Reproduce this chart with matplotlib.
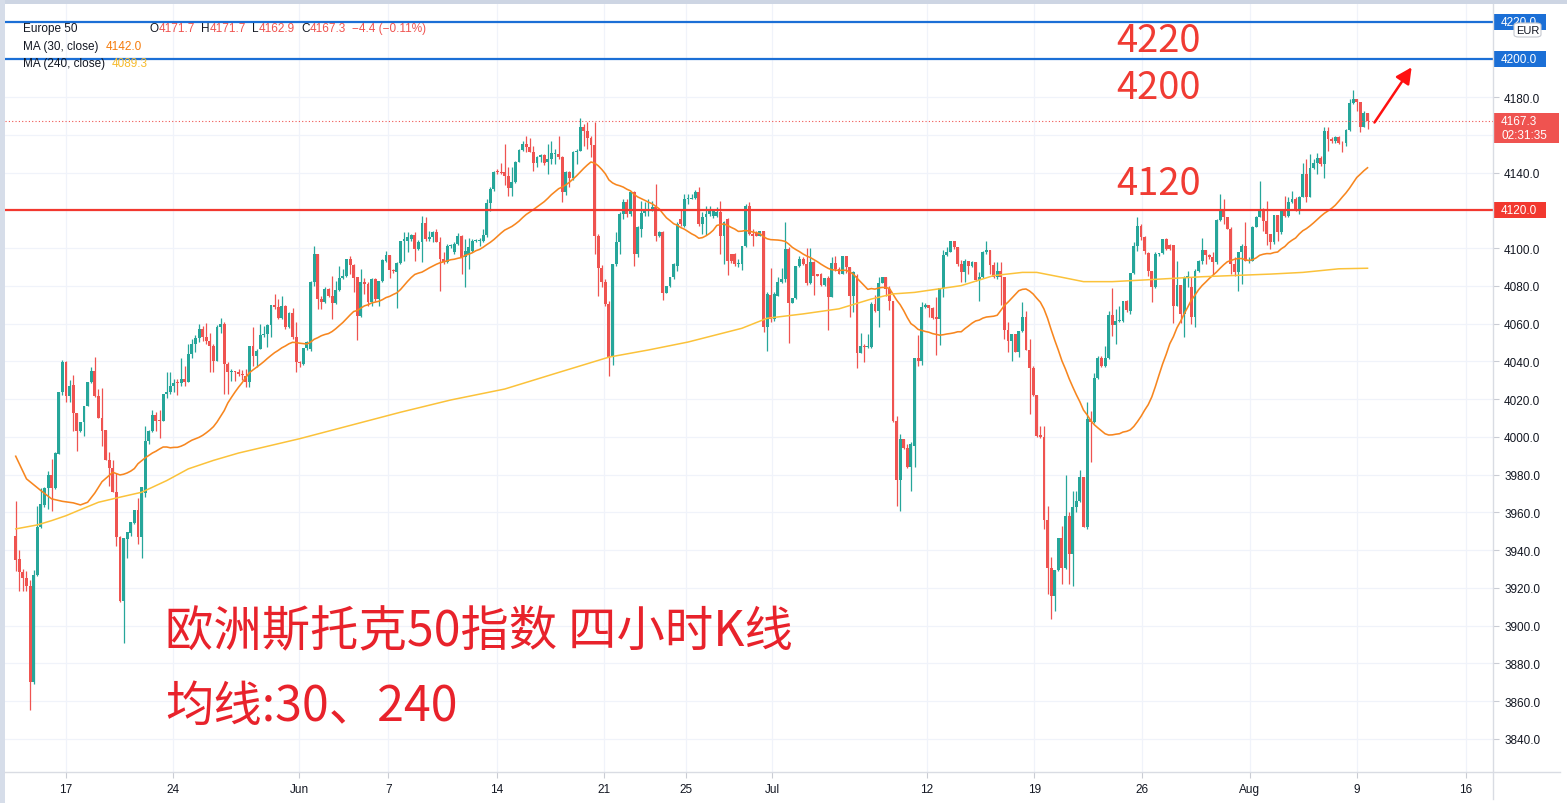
import numpy as np
import pandas as pd
import matplotlib.pyplot as plt
import matplotlib.transforms as mtransforms
from matplotlib.patches import Rectangle, FancyBboxPatch
from matplotlib.lines import Line2D

plt.rcParams['font.family'] = ['Liberation Sans', 'DejaVu Sans']

# 4-hour candles, Europe 50 (one value per bar)
opens = [
    3947.3, 3935.0, 3928.6, 3925.4, 3921.0, 3870.0, 3926.8, 3952.0, 3964.1, 3972.9,
    3980.0, 3972.7, 3990.9, 4023.6, 4039.8, 4021.8, 4027.4, 4012.6, 4003.1, 4007.7,
    4016.5, 4029.2, 4034.7, 4021.8, 4010.2, 4003.6, 3987.9, 3983.5, 3970.6, 3946.8,
    3913.2, 3945.9, 3948.9, 3954.2, 3961.1, 3946.8, 3970.2, 3998.0, 4002.9, 4011.6,
    4008.6, 4008.6, 4022.7, 4023.9, 4027.1, 4028.5, 4028.5, 4030.6, 4029.2, 4043.9,
    4049.2, 4052.5, 4057.0, 4053.0, 4051.0, 4048.0, 4040.4, 4058.0, 4060.0, 4038.6,
    4034.2, 4034.8, 4034.2, 4033.5, 4032.4, 4028.9, 4048.3, 4043.0, 4046.5, 4054.0,
    4054.5, 4059.2, 4069.8, 4068.6, 4063.0, 4069.5, 4058.0, 4065.6, 4052.7, 4039.5,
    4038.6, 4046.9, 4046.5, 4081.9, 4096.9, 4073.0, 4071.6, 4078.3, 4074.8, 4070.7,
    4077.9, 4084.2, 4085.0, 4094.2, 4091.0, 4084.5, 4064.2, 4081.9, 4081.0, 4071.3,
    4083.6, 4073.0, 4082.7, 4093.0, 4096.3, 4088.4, 4087.2, 4091.9, 4103.6, 4103.6,
    4104.8, 4106.9, 4099.5, 4103.0, 4113.3, 4104.8, 4105.7, 4108.3, 4103.4, 4094.2,
    4092.5, 4101.3, 4097.7, 4102.2, 4106.6, 4095.1, 4097.0, 4098.6, 4103.6, 4103.6,
    4103.9, 4106.9, 4123.7, 4131.3, 4140.5, 4140.5, 4140.5, 4138.4, 4131.8, 4134.8,
    4145.8, 4152.0, 4155.1, 4153.3, 4151.0, 4144.9, 4148.1, 4149.3, 4145.4, 4147.2,
    4149.8, 4149.8, 4148.1, 4129.5, 4140.1, 4136.9, 4150.7, 4151.5, 4164.0, 4162.2,
    4158.1, 4154.6, 4106.6, 4089.2, 4081.8, 4070.4, 4042.1, 4091.5, 4103.0, 4118.0,
    4124.2, 4118.0, 4129.5, 4096.8, 4110.1, 4118.5, 4119.8, 4119.8, 4121.6, 4106.6,
    4108.3, 4076.2, 4079.7, 4084.5, 4090.7, 4115.4, 4111.9, 4125.8, 4126.1, 4126.5,
    4129.5, 4112.7, 4116.3, 4118.1, 4117.2, 4117.2, 4118.9, 4106.2, 4115.4, 4096.8,
    4096.8, 4091.5, 4091.5, 4100.9, 4122.1, 4107.4, 4108.0, 4106.5, 4108.8, 4058.0,
    4075.1, 4062.4, 4074.8, 4081.8, 4083.6, 4099.5, 4070.9, 4073.5, 4090.3, 4094.2,
    4091.5, 4081.3, 4092.4, 4086.2, 4086.2, 4080.6, 4084.1, 4074.2, 4092.1, 4088.9,
    4086.4, 4095.6, 4089.8, 4074.8, 4085.4, 4044.2, 4047.9, 4047.4, 4047.4, 4070.4,
    4066.8, 4081.5, 4084.5, 4078.3, 4072.1, 4008.5, 3977.2, 3998.8, 3993.9, 3983.8,
    3995.3, 4041.6, 4040.3, 4068.6, 4069.8, 4068.1, 4063.6, 4062.4, 4078.7, 4096.3,
    4098.1, 4103.6, 4100.4, 4091.5, 4087.1, 4093.3, 4090.3, 4092.8, 4083.2, 4084.5,
    4097.7, 4099.1, 4091.2, 4084.5, 4088.0, 4084.5, 4056.8, 4050.9, 4054.5, 4045.1,
    4055.9, 4063.3, 4046.2, 4036.3, 4022.3, 4001.0, 3999.8, 3955.9, 3930.5, 3915.8,
    3929.4, 3946.2, 3930.5, 3957.9, 3937.9, 3962.6, 3966.2, 3978.5, 3952.4, 4009.4,
    4007.6, 4031.0, 4041.6, 4037.3, 4041.6, 4064.5, 4059.2, 4061.5, 4061.5, 4071.8,
    4066.8, 4086.8, 4101.0, 4111.9, 4106.0, 4097.2, 4088.0, 4079.2, 4096.8, 4097.2,
    4104.8, 4101.6, 4101.6, 4069.5, 4080.4, 4065.0, 4084.8, 4079.2, 4063.3, 4088.0,
    4093.3, 4099.1, 4096.5, 4095.1, 4092.4, 4115.0, 4120.7, 4116.3, 4110.1, 4091.5,
    4087.1, 4097.7, 4101.3, 4093.3, 4093.3, 4111.3, 4116.3, 4120.7, 4114.2, 4107.4,
    4103.0, 4117.5, 4108.3, 4119.8, 4117.2, 4124.2, 4126.0, 4120.7, 4127.2, 4139.4,
    4126.9, 4142.6, 4144.8, 4147.6, 4144.4, 4162.2, 4157.7, 4156.5, 4159.0, 4155.9,
    4155.4, 4162.5, 4176.8, 4178.9, 4177.2, 4164.2, 4171.7,
]
highs = [
    3965.8, 3940.0, 3930.0, 3929.0, 3924.0, 3929.4, 3963.5, 3972.9, 3973.2, 3982.1,
    3988.3, 3991.8, 4023.9, 4040.5, 4040.0, 4030.0, 4032.8, 4012.8, 4007.7, 4016.5,
    4029.2, 4036.8, 4042.1, 4025.3, 4025.7, 4003.6, 3991.8, 3987.5, 3981.0, 3947.6,
    3946.2, 3949.4, 3954.7, 3961.1, 3967.4, 3973.6, 4005.9, 4003.4, 4014.2, 4013.0,
    4014.2, 4022.7, 4034.2, 4034.2, 4030.6, 4030.6, 4041.8, 4037.7, 4049.2, 4052.0,
    4054.0, 4059.5, 4058.5, 4060.5, 4055.0, 4049.0, 4059.0, 4063.0, 4061.0, 4039.5,
    4035.9, 4035.1, 4036.0, 4035.5, 4035.9, 4048.3, 4058.0, 4046.5, 4059.8, 4058.9,
    4059.8, 4069.8, 4075.7, 4073.0, 4074.8, 4070.0, 4066.0, 4068.3, 4061.0, 4040.0,
    4046.9, 4050.5, 4082.5, 4101.3, 4096.9, 4074.8, 4079.2, 4079.0, 4085.4, 4082.7,
    4090.7, 4088.9, 4094.2, 4096.0, 4091.6, 4084.5, 4088.9, 4084.2, 4081.9, 4084.0,
    4084.2, 4082.7, 4094.2, 4098.6, 4096.3, 4089.0, 4092.5, 4103.6, 4108.3, 4108.3,
    4107.5, 4108.3, 4104.0, 4116.8, 4116.3, 4109.2, 4109.2, 4110.1, 4105.7, 4097.7,
    4102.2, 4102.0, 4103.0, 4108.0, 4107.0, 4104.8, 4105.2, 4104.8, 4105.0, 4105.2,
    4110.1, 4126.0, 4132.2, 4141.0, 4141.9, 4145.1, 4155.1, 4142.7, 4142.7, 4146.3,
    4152.4, 4156.9, 4159.5, 4158.1, 4154.2, 4148.9, 4149.8, 4150.0, 4155.1, 4156.9,
    4152.4, 4159.5, 4148.9, 4141.0, 4141.0, 4151.5, 4152.4, 4168.7, 4165.7, 4166.6,
    4159.5, 4166.6, 4107.5, 4091.0, 4083.6, 4072.1, 4091.5, 4108.3, 4118.9, 4126.0,
    4126.0, 4129.5, 4130.4, 4111.9, 4125.1, 4124.2, 4126.0, 4125.1, 4133.9, 4109.0,
    4109.2, 4080.1, 4084.5, 4092.1, 4113.6, 4120.7, 4128.6, 4128.6, 4128.6, 4130.8,
    4132.2, 4118.9, 4122.5, 4122.5, 4120.5, 4121.6, 4124.9, 4114.5, 4115.7, 4097.0,
    4097.4, 4094.2, 4101.3, 4123.4, 4124.3, 4110.1, 4109.2, 4109.2, 4109.2, 4076.5,
    4089.2, 4076.5, 4084.5, 4089.2, 4113.6, 4100.4, 4073.5, 4090.7, 4095.9, 4095.0,
    4100.0, 4099.8, 4093.3, 4086.5, 4086.8, 4084.1, 4085.4, 4095.1, 4095.9, 4089.8,
    4095.6, 4095.6, 4089.8, 4088.0, 4086.2, 4055.0, 4049.2, 4054.5, 4071.2, 4075.1,
    4084.5, 4084.5, 4084.5, 4080.1, 4072.1, 4011.2, 4001.5, 3998.8, 3996.2, 3997.1,
    4041.7, 4053.9, 4071.6, 4070.9, 4069.8, 4068.6, 4073.9, 4078.7, 4099.1, 4100.4,
    4103.9, 4103.6, 4100.4, 4093.8, 4094.2, 4093.3, 4093.0, 4092.8, 4087.1, 4098.6,
    4103.6, 4099.1, 4092.4, 4092.4, 4092.4, 4084.5, 4061.0, 4054.5, 4054.5, 4055.9,
    4071.2, 4066.8, 4051.8, 4037.3, 4022.3, 4005.9, 4005.9, 3963.5, 3936.2, 3929.4,
    3946.2, 3952.9, 3979.8, 3960.0, 3971.5, 3971.5, 3982.6, 3978.5, 4018.3, 4013.8,
    4033.8, 4043.0, 4043.0, 4048.3, 4066.8, 4078.7, 4067.7, 4069.5, 4071.8, 4072.5,
    4086.8, 4103.0, 4116.3, 4113.0, 4106.6, 4097.7, 4088.0, 4097.7, 4097.5, 4104.8,
    4105.1, 4102.0, 4101.6, 4093.3, 4080.4, 4085.4, 4088.0, 4084.5, 4088.9, 4093.5,
    4105.1, 4099.1, 4097.0, 4097.7, 4115.4, 4128.6, 4126.0, 4116.3, 4111.0, 4095.1,
    4097.7, 4102.1, 4113.6, 4095.0, 4111.9, 4117.2, 4135.6, 4121.2, 4125.1, 4107.4,
    4117.5, 4117.5, 4120.2, 4127.8, 4126.9, 4130.4, 4127.0, 4127.8, 4145.3, 4147.0,
    4149.7, 4147.0, 4150.6, 4148.8, 4163.9, 4163.9, 4159.0, 4159.6, 4159.6, 4156.8,
    4163.0, 4178.9, 4183.7, 4178.9, 4177.2, 4172.4, 4171.7,
]
lows = [
    3928.7, 3918.5, 3918.5, 3918.5, 3855.0, 3869.0, 3926.0, 3951.5, 3962.6, 3961.8,
    3960.9, 3972.4, 3990.9, 4022.0, 4018.3, 4018.3, 4003.1, 3992.7, 4002.5, 4000.6,
    4016.5, 4028.7, 4020.9, 4010.2, 3995.3, 3987.9, 3974.1, 3970.6, 3942.3, 3912.3,
    3890.8, 3936.0, 3947.6, 3953.8, 3943.2, 3936.0, 3967.9, 3996.2, 4002.7, 4003.1,
    3999.2, 4008.4, 4020.3, 4022.7, 4023.9, 4022.0, 4026.7, 4026.7, 4028.9, 4041.8,
    4045.0, 4050.0, 4051.0, 4049.0, 4034.2, 4034.2, 4040.0, 4055.0, 4022.7, 4022.7,
    4029.8, 4029.8, 4032.0, 4030.0, 4026.2, 4026.2, 4037.7, 4036.8, 4046.5, 4052.7,
    4047.4, 4052.7, 4067.7, 4062.4, 4062.4, 4057.0, 4057.5, 4052.0, 4034.2, 4037.0,
    4038.2, 4046.0, 4045.7, 4079.7, 4067.7, 4067.7, 4071.0, 4074.0, 4062.4, 4070.4,
    4077.4, 4083.6, 4084.5, 4086.3, 4076.6, 4051.5, 4063.3, 4075.7, 4069.5, 4069.5,
    4072.1, 4069.5, 4081.9, 4092.5, 4084.2, 4087.0, 4068.3, 4091.6, 4093.3, 4097.7,
    4103.9, 4093.3, 4099.0, 4092.5, 4103.9, 4103.9, 4103.0, 4103.0, 4077.1, 4091.6,
    4092.0, 4100.0, 4096.9, 4101.8, 4086.3, 4079.2, 4089.0, 4098.0, 4103.0, 4101.3,
    4103.0, 4105.7, 4119.8, 4130.4, 4139.2, 4139.2, 4133.4, 4127.4, 4127.8, 4134.5,
    4145.4, 4151.5, 4151.0, 4150.7, 4140.9, 4142.7, 4145.4, 4144.0, 4139.2, 4144.5,
    4144.5, 4147.2, 4124.2, 4128.1, 4132.2, 4136.2, 4144.5, 4151.5, 4154.2, 4152.4,
    4148.1, 4096.8, 4074.8, 4079.2, 4069.5, 4032.4, 4038.0, 4090.7, 4096.8, 4115.4,
    4116.6, 4117.1, 4090.7, 4095.1, 4106.0, 4117.1, 4117.1, 4119.5, 4103.9, 4106.0,
    4072.7, 4076.0, 4079.2, 4083.6, 4088.0, 4111.9, 4111.0, 4123.4, 4125.8, 4126.1,
    4111.9, 4107.4, 4106.9, 4117.2, 4116.0, 4116.3, 4097.1, 4091.7, 4085.7, 4092.0,
    4090.3, 4089.8, 4088.5, 4100.4, 4106.9, 4101.3, 4106.2, 4106.2, 4055.7, 4045.6,
    4061.0, 4061.5, 4074.4, 4081.5, 4081.8, 4049.5, 4070.9, 4073.0, 4089.8, 4091.0,
    4080.4, 4080.9, 4075.1, 4085.0, 4080.1, 4080.1, 4056.8, 4073.9, 4088.0, 4086.2,
    4086.2, 4086.8, 4063.6, 4066.0, 4036.5, 4044.2, 4039.5, 4046.9, 4046.9, 4065.9,
    4058.3, 4081.5, 4074.8, 4067.1, 4007.7, 3963.5, 3960.5, 3993.5, 3983.2, 3971.4,
    3983.8, 4037.7, 4038.0, 4068.1, 4063.3, 4062.4, 4043.3, 4048.6, 4073.9, 4096.0,
    4097.7, 4099.5, 4090.3, 4081.8, 4081.8, 4086.2, 4090.0, 4082.7, 4072.1, 4084.0,
    4096.8, 4086.2, 4083.9, 4083.6, 4069.8, 4051.8, 4044.8, 4040.3, 4044.8, 4042.1,
    4055.3, 4046.2, 4012.1, 4021.8, 3999.8, 3999.2, 3951.2, 3916.7, 3903.5, 3907.9,
    3929.1, 3922.0, 3930.0, 3922.0, 3921.2, 3960.0, 3965.3, 3952.0, 3951.2, 3986.8,
    4007.3, 4030.6, 4036.8, 4036.8, 4041.2, 4053.2, 4049.2, 4060.6, 4061.0, 4066.0,
    4065.1, 4086.2, 4098.6, 4104.0, 4096.8, 4085.4, 4071.2, 4078.8, 4096.0, 4096.8,
    4099.1, 4099.0, 4060.1, 4069.5, 4060.1, 4052.7, 4079.2, 4060.0, 4058.0, 4087.5,
    4091.5, 4091.5, 4094.0, 4086.2, 4091.5, 4114.5, 4112.7, 4110.1, 4086.2, 4085.4,
    4077.4, 4080.9, 4093.3, 4092.0, 4093.0, 4111.0, 4116.3, 4109.2, 4101.6, 4099.5,
    4102.1, 4103.9, 4107.4, 4116.3, 4116.3, 4123.7, 4119.8, 4118.0, 4126.9, 4124.2,
    4126.9, 4141.7, 4139.1, 4143.5, 4137.3, 4151.5, 4155.4, 4155.9, 4155.0, 4150.9,
    4154.1, 4162.2, 4176.3, 4172.8, 4161.7, 4163.9, 4162.9,
]
closes = [
    3934.9, 3928.6, 3925.4, 3921.0, 3870.0, 3926.8, 3952.0, 3964.4, 3972.9, 3980.0,
    3972.7, 3991.4, 4023.6, 4039.8, 4021.8, 4027.1, 4012.6, 4003.1, 4007.7, 4016.5,
    4029.2, 4034.7, 4021.8, 4010.2, 4003.1, 3987.9, 3983.5, 3970.6, 3946.8, 3913.2,
    3946.2, 3949.4, 3954.7, 3961.1, 3946.8, 3973.6, 3998.0, 4003.1, 4011.6, 4008.6,
    4008.4, 4022.7, 4023.9, 4027.1, 4028.5, 4028.3, 4030.6, 4029.2, 4043.9, 4049.2,
    4052.5, 4057.0, 4053.0, 4051.0, 4048.0, 4040.4, 4058.0, 4060.0, 4038.6, 4034.2,
    4034.8, 4034.2, 4033.5, 4032.8, 4028.9, 4048.3, 4043.0, 4045.7, 4054.0, 4054.5,
    4059.2, 4069.8, 4068.6, 4063.0, 4069.5, 4058.0, 4065.6, 4052.7, 4039.5, 4039.1,
    4046.9, 4050.1, 4081.9, 4096.9, 4073.0, 4071.6, 4078.3, 4074.8, 4070.7, 4077.9,
    4084.2, 4085.0, 4094.2, 4091.0, 4084.2, 4064.2, 4081.9, 4081.0, 4071.3, 4083.6,
    4073.0, 4082.7, 4093.7, 4096.3, 4088.4, 4088.0, 4091.9, 4103.6, 4104.8, 4105.7,
    4106.9, 4099.5, 4103.0, 4113.3, 4104.8, 4105.7, 4108.3, 4103.4, 4094.2, 4092.5,
    4101.3, 4101.8, 4102.2, 4106.6, 4095.5, 4098.6, 4100.4, 4103.9, 4103.9, 4104.3,
    4106.9, 4123.7, 4131.3, 4140.5, 4140.1, 4139.8, 4138.4, 4131.8, 4134.8, 4145.8,
    4152.0, 4155.1, 4153.3, 4151.0, 4144.9, 4148.1, 4149.3, 4145.1, 4147.2, 4150.3,
    4149.9, 4148.1, 4129.5, 4140.1, 4136.9, 4150.7, 4151.5, 4164.0, 4162.2, 4158.1,
    4154.6, 4106.6, 4089.2, 4081.8, 4070.4, 4042.1, 4091.5, 4103.0, 4118.0, 4124.2,
    4118.0, 4129.5, 4096.8, 4111.0, 4118.5, 4119.8, 4120.2, 4121.6, 4106.6, 4108.3,
    4076.2, 4079.7, 4084.5, 4091.5, 4112.7, 4112.7, 4126.0, 4126.5, 4126.7, 4129.5,
    4112.7, 4116.3, 4118.1, 4119.8, 4119.8, 4118.9, 4106.2, 4113.6, 4093.3, 4093.3,
    4091.5, 4092.1, 4100.9, 4122.1, 4107.4, 4106.5, 4106.5, 4108.8, 4058.0, 4075.7,
    4062.4, 4075.7, 4081.8, 4083.6, 4099.5, 4070.9, 4073.5, 4090.3, 4094.2, 4091.5,
    4081.3, 4092.4, 4085.4, 4085.4, 4080.6, 4084.1, 4074.2, 4092.1, 4088.9, 4086.4,
    4095.6, 4089.8, 4074.8, 4087.1, 4044.2, 4048.3, 4047.4, 4048.3, 4070.4, 4066.8,
    4081.5, 4084.5, 4078.3, 4072.1, 4008.5, 3977.2, 3998.8, 3993.9, 3983.8, 3996.2,
    4041.6, 4040.3, 4068.6, 4069.8, 4068.1, 4062.8, 4062.4, 4078.7, 4096.3, 4098.1,
    4103.6, 4100.4, 4091.5, 4087.1, 4093.3, 4090.3, 4092.8, 4083.2, 4084.5, 4097.7,
    4099.1, 4091.2, 4084.5, 4088.0, 4084.5, 4056.8, 4050.9, 4054.5, 4045.1, 4055.9,
    4063.3, 4046.2, 4036.3, 4022.3, 4000.3, 3999.8, 3955.9, 3930.5, 3915.8, 3929.4,
    3946.2, 3930.5, 3957.9, 3937.9, 3962.6, 3966.2, 3978.5, 3952.4, 4009.4, 4007.6,
    4031.0, 4041.6, 4037.3, 4041.6, 4064.5, 4059.2, 4061.5, 4062.1, 4071.8, 4067.0,
    4086.8, 4100.9, 4111.9, 4106.0, 4098.6, 4088.0, 4079.2, 4096.8, 4097.2, 4104.8,
    4099.5, 4099.5, 4069.5, 4080.4, 4065.0, 4084.8, 4085.4, 4063.3, 4088.0, 4093.3,
    4099.1, 4096.5, 4095.1, 4092.4, 4115.0, 4119.8, 4116.3, 4110.1, 4091.5, 4087.1,
    4097.7, 4101.3, 4093.3, 4093.5, 4111.3, 4116.3, 4120.7, 4114.2, 4107.4, 4103.0,
    4117.5, 4108.3, 4119.8, 4117.2, 4124.2, 4126.0, 4120.7, 4127.2, 4139.4, 4126.9,
    4142.6, 4144.8, 4147.6, 4144.4, 4162.2, 4157.7, 4156.5, 4158.6, 4155.9, 4155.4,
    4162.5, 4176.8, 4178.9, 4177.2, 4164.2, 4171.7, 4167.3,
]

# MA(30) before enough bars exist on screen, then computed
ma30_head_x = [0, 3, 7, 10, 13, 16, 18, 20, 22, 24, 27]
ma30_head = [3989.7, 3977.7, 3971.5, 3967.1, 3965.8, 3965.0, 3963.9, 3965.3, 3970.2, 3976.2, 3981.2]
# MA(240)
ma240_x = [0, 6, 10, 14, 18, 23, 29, 35, 42, 48, 55, 62, 79, 93, 107, 121, 136, 150, 165, 176,
           187, 202, 209, 219, 229, 238, 244, 250, 263, 272, 280, 284, 291, 297, 305, 313, 330,
           349, 358, 368, 376]
ma240 = [3951.2, 3953.3, 3955.6, 3958.2, 3961.4, 3965.3, 3968.0, 3970.6, 3976.8, 3983.0, 3987.5,
         3991.4, 3999.0, 4006.0, 4013.0, 4019.5, 4025.3, 4033.5, 4042.2, 4046.0, 4050.2, 4057.5,
         4062.8, 4065.1, 4067.8, 4073.0, 4075.7, 4076.5, 4080.1, 4085.4, 4087.1, 4087.1, 4084.5,
         4082.2, 4082.2, 4083.0, 4084.8, 4086.2, 4087.1, 4089.0, 4089.3]

date_pos = [13.9, 43.8, 78.8, 103.6, 133.9, 163.7, 186.5, 210.4, 253.5, 283.3, 313.3, 343.3, 373.1, 403.4]
date_labels = ['17', '24', 'Jun', '7', '14', '21', '25', 'Jul', '12', '19', '26', 'Aug', '9', '16']
blue_levels = [4220, 4200]
red_level = 4120

UP, DOWN = '#26a69a', '#ef5350'
W, H = 1567, 804
fig = plt.figure(figsize=(W / 100, H / 100), dpi=100)
fig.patch.set_facecolor('white')
ax = fig.add_axes([5 / W, 31 / H, 1488 / W, 768 / H])
ax.set_xlim(-2.98, 410.9)
ax.set_ylim(3822.4, 4229.3)

# grid
for p in range(3840, 4221, 20):
    ax.axhline(p, color='#f0f3fa', lw=0.9, zorder=0)
for t in date_pos:
    ax.axvline(t, color='#f0f3fa', lw=0.9, zorder=0)

# candles
o, hi, lo, c = map(np.array, (opens, highs, lows, closes))
x = np.arange(len(c))
col = np.where(c >= o, UP, DOWN)
ax.vlines(x, lo, hi, colors=col, lw=0.9, zorder=2)
ax.bar(x, np.maximum(np.abs(c - o), 0.5), bottom=np.minimum(o, c), width=0.8,
       color=col, linewidth=0, zorder=2)

# moving averages
ma30_calc = pd.Series(closes).rolling(30).mean()
ax.plot(ma30_head_x + list(range(29, len(c))), ma30_head + list(ma30_calc[29:]),
        color='#f7861f', lw=1.15, zorder=3)
ax.plot(ma240_x, ma240, color='#fbc23a', lw=1.1, zorder=3)

# drawn levels
for lv in blue_levels:
    ax.axhline(lv, color='#1b6fd6', lw=1.6, zorder=4)
ax.axhline(red_level, color='#f2382f', lw=1.6, zorder=4)
ax.axhline(c[-1], color=DOWN, lw=0.8, ls=(0, (1, 2)), zorder=4)

# axes styling
for s in ax.spines.values():
    s.set_visible(False)
ax.yaxis.tick_right()
yt = [p for p in range(3840, 4200, 20) if p not in (4120, 4160)]
ax.set_yticks(yt)
ax.set_yticklabels([f'{p:.1f}' for p in yt])
ax.set_xticks(date_pos)
ax.set_xticklabels(date_labels)
ax.tick_params(axis='both', length=4, width=0.8, color='#c9ccd4', labelsize=8.5,
               labelcolor='#131722', pad=4)
fig.add_artist(Line2D([5 / W, 1560 / W], [31 / H, 31 / H], color='#d9dce3', lw=1))
fig.add_artist(Line2D([1493 / W, 1493 / W], [4 / H, 799 / H], color='#d9dce3', lw=1))

# frame bands
fig.add_artist(Rectangle((0, 1 - 5 / H), 1, 5 / H, transform=fig.transFigure, color='#cdd5e3', lw=0))
fig.add_artist(Rectangle((0, 0), 5 / W, 1, transform=fig.transFigure, color='#d6dde9', lw=0))

# price-scale labels
bt = mtransforms.blended_transform_factory(ax.transAxes, ax.transData)
ppx = 1.8875  # pixels per point on the price scale


def scale_box(level, text, color, w=53, up_px=8, down_px=8):
    ax.add_patch(Rectangle((1.0, level - down_px / ppx), w / 1488, (up_px + down_px) / ppx,
                           transform=bt, color=color, lw=0, clip_on=False, zorder=6))
    ax.text(1.0 + 8 / 1488, level, text, transform=bt, color='white', fontsize=8.5,
            va='center', ha='left', zorder=7)


scale_box(4220, '4220.0', '#1b6fd6')
scale_box(4200, '4200.0', '#1b6fd6')
scale_box(red_level, '4120.0', '#f2382f')
ax.add_patch(Rectangle((1.0, c[-1] - 22 / ppx), 66 / 1488, 30 / ppx, transform=bt,
                       color=DOWN, lw=0, clip_on=False, zorder=6))
ax.text(1.0 + 8 / 1488, c[-1], f'{c[-1]:.1f}', transform=bt, color='white', fontsize=8.5,
        va='center', ha='left', zorder=7)
ax.text(1.0 + 8 / 1488, c[-1] - 14 / ppx, '02:31:35', transform=bt, color='white',
        fontsize=8.5, va='center', ha='left', zorder=7)
fig.add_artist(FancyBboxPatch((1514 / W, 1 - 38 / H), 27 / W, 14 / H, boxstyle='round,pad=0,rounding_size=0.003',
                              transform=fig.transFigure, fc='white', ec='#c5c8d0', lw=0.8))
fig.text(1527.5 / W, 1 - 31 / H, 'EUR', ha='center', va='center', fontsize=8, color='#131722')

# legend (top-left)
def ftext(px, py, s, color='#131722', **kw):
    fig.text(px / W, 1 - py / H, s, color=color, fontsize=8.5, va='center', ha='left', **kw)


ftext(23, 29, 'Europe 50')
for lab, lx, val in [('O', 150, opens[-1]), ('H', 201, highs[-1]), ('L', 252, lows[-1]), ('C', 301, closes[-1])]:
    ftext(lx, 29, lab)
    ftext(lx + {'O': 9, 'H': 8.5, 'L': 6.6, 'C': 8.5}[lab], 29, f'{val:.1f}', color=DOWN)
ftext(352, 29, '\u22124.4 (\u22120.11%)', color=DOWN)
ftext(23, 47, 'MA (30, close)')
ftext(106, 47, '4142.0', color='#f57c0d')
ftext(23, 64, 'MA (240, close)')
ftext(112, 64, '4089.3', color='#f6bb2e')

# annotations
cjk = ['Noto Sans CJK SC', 'DejaVu Sans']
RED_TXT = '#f03b33'
for lv, ty in [(4220, 4210.0), (4200, 4184.8), (4120, 4134.0)]:
    ax.text(317.8, ty, str(lv), fontsize=27.5, color=RED_TXT, ha='center', va='center',
            family=cjk, zorder=5)
ax.text(0.1075, 0.1836, '欧洲斯托克50指数 四小时K线', transform=ax.transAxes, fontsize=34.8,
        color='#e8222b', family=cjk, ha='left', va='center', zorder=5)
ax.text(0.1075, 0.0859, '均线:30、240', transform=ax.transAxes, fontsize=34.8,
        color='#e8222b', family=cjk, ha='left', va='center', zorder=5)
ax.annotate('', xy=(388.7, 4197.0), xytext=(len(c) + 0.5, c[-1] - 2),
            arrowprops=dict(arrowstyle='-|>', color='#ff1010', lw=1.8, mutation_scale=24),
            zorder=5)

fig.savefig('out.png', dpi=100, facecolor='white')
